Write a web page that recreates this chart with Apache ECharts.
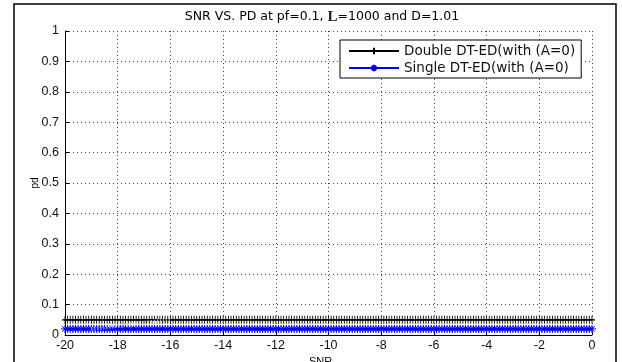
<!DOCTYPE html>
<html>
<head>
<meta charset="utf-8">
<script src="https://cdn.jsdelivr.net/npm/echarts@6/dist/echarts.min.js"></script>
<style>html,body{margin:0;padding:0;background:#fff}#c{width:622px;height:362px}</style>
</head>
<body>
<div id="c"></div>
<script>
var snr = [
-20,-19.9,-19.8,-19.7,-19.6,-19.5,-19.4,-19.3,-19.2,-19.1,
-19,-18.9,-18.8,-18.7,-18.6,-18.5,-18.4,-18.3,-18.2,-18.1,
-18,-17.9,-17.8,-17.7,-17.6,-17.5,-17.4,-17.3,-17.2,-17.1,
-17,-16.9,-16.8,-16.7,-16.6,-16.5,-16.4,-16.3,-16.2,-16.1,
-16,-15.9,-15.8,-15.7,-15.6,-15.5,-15.4,-15.3,-15.2,-15.1,
-15,-14.9,-14.8,-14.7,-14.6,-14.5,-14.4,-14.3,-14.2,-14.1,
-14,-13.9,-13.8,-13.7,-13.6,-13.5,-13.4,-13.3,-13.2,-13.1,
-13,-12.9,-12.8,-12.7,-12.6,-12.5,-12.4,-12.3,-12.2,-12.1,
-12,-11.9,-11.8,-11.7,-11.6,-11.5,-11.4,-11.3,-11.2,-11.1,
-11,-10.9,-10.8,-10.7,-10.6,-10.5,-10.4,-10.3,-10.2,-10.1,
-10,-9.9,-9.8,-9.7,-9.6,-9.5,-9.4,-9.3,-9.2,-9.1,
-9,-8.9,-8.8,-8.7,-8.6,-8.5,-8.4,-8.3,-8.2,-8.1,
-8,-7.9,-7.8,-7.7,-7.6,-7.5,-7.4,-7.3,-7.2,-7.1,
-7,-6.9,-6.8,-6.7,-6.6,-6.5,-6.4,-6.3,-6.2,-6.1,
-6,-5.9,-5.8,-5.7,-5.6,-5.5,-5.4,-5.3,-5.2,-5.1,
-5,-4.9,-4.8,-4.7,-4.6,-4.5,-4.4,-4.3,-4.2,-4.1,
-4,-3.9,-3.8,-3.7,-3.6,-3.5,-3.4,-3.3,-3.2,-3.1,
-3,-2.9,-2.8,-2.7,-2.6,-2.5,-2.4,-2.3,-2.2,-2.1,
-2,-1.9,-1.8,-1.7,-1.6,-1.5,-1.4,-1.3,-1.2,-1.1,
-1,-0.9,-0.8,-0.7,-0.6,-0.5,-0.4,-0.3,-0.2,-0.1,
0];
var pdDouble = [
0.05,0.05,0.05,0.05,0.05,0.05,0.05,0.05,0.05,0.05,
0.05,0.05,0.05,0.05,0.05,0.05,0.05,0.05,0.05,0.05,
0.05,0.05,0.05,0.05,0.05,0.05,0.05,0.05,0.05,0.05,
0.05,0.05,0.05,0.05,0.05,0.05,0.05,0.05,0.05,0.05,
0.05,0.05,0.05,0.05,0.05,0.05,0.05,0.05,0.05,0.05,
0.05,0.05,0.05,0.05,0.05,0.05,0.05,0.05,0.05,0.05,
0.05,0.05,0.05,0.05,0.05,0.05,0.05,0.05,0.05,0.05,
0.05,0.05,0.05,0.05,0.05,0.05,0.05,0.05,0.05,0.05,
0.05,0.05,0.05,0.05,0.05,0.05,0.05,0.05,0.05,0.05,
0.05,0.05,0.05,0.05,0.05,0.05,0.05,0.05,0.05,0.05,
0.05,0.05,0.05,0.05,0.05,0.05,0.05,0.05,0.05,0.05,
0.05,0.05,0.05,0.05,0.05,0.05,0.05,0.05,0.05,0.05,
0.05,0.05,0.05,0.05,0.05,0.05,0.05,0.05,0.05,0.05,
0.05,0.05,0.05,0.05,0.05,0.05,0.05,0.05,0.05,0.05,
0.05,0.05,0.05,0.05,0.05,0.05,0.05,0.05,0.05,0.05,
0.05,0.05,0.05,0.05,0.05,0.05,0.05,0.05,0.05,0.05,
0.05,0.05,0.05,0.05,0.05,0.05,0.05,0.05,0.05,0.05,
0.05,0.05,0.05,0.05,0.05,0.05,0.05,0.05,0.05,0.05,
0.05,0.05,0.05,0.05,0.05,0.05,0.05,0.05,0.05,0.05,
0.05,0.05,0.05,0.05,0.05,0.05,0.05,0.05,0.05,0.05,
0.05];
var pdSingle = [
0.02,0.02,0.02,0.02,0.02,0.02,0.02,0.02,0.02,0.02,
0.02,0.02,0.02,0.02,0.02,0.02,0.02,0.02,0.02,0.02,
0.02,0.02,0.02,0.02,0.02,0.02,0.02,0.02,0.02,0.02,
0.02,0.02,0.02,0.02,0.02,0.02,0.02,0.02,0.02,0.02,
0.02,0.02,0.02,0.02,0.02,0.02,0.02,0.02,0.02,0.02,
0.02,0.02,0.02,0.02,0.02,0.02,0.02,0.02,0.02,0.02,
0.02,0.02,0.02,0.02,0.02,0.02,0.02,0.02,0.02,0.02,
0.02,0.02,0.02,0.02,0.02,0.02,0.02,0.02,0.02,0.02,
0.02,0.02,0.02,0.02,0.02,0.02,0.02,0.02,0.02,0.02,
0.02,0.02,0.02,0.02,0.02,0.02,0.02,0.02,0.02,0.02,
0.02,0.02,0.02,0.02,0.02,0.02,0.02,0.02,0.02,0.02,
0.02,0.02,0.02,0.02,0.02,0.02,0.02,0.02,0.02,0.02,
0.02,0.02,0.02,0.02,0.02,0.02,0.02,0.02,0.02,0.02,
0.02,0.02,0.02,0.02,0.02,0.02,0.02,0.02,0.02,0.02,
0.02,0.02,0.02,0.02,0.02,0.02,0.02,0.02,0.02,0.02,
0.02,0.02,0.02,0.02,0.02,0.02,0.02,0.02,0.02,0.02,
0.02,0.02,0.02,0.02,0.02,0.02,0.02,0.02,0.02,0.02,
0.02,0.02,0.02,0.02,0.02,0.02,0.02,0.02,0.02,0.02,
0.02,0.02,0.02,0.02,0.02,0.02,0.02,0.02,0.02,0.02,
0.02,0.02,0.02,0.02,0.02,0.02,0.02,0.02,0.02,0.02,
0.02];
// faint transition trace visible near the left end
var ghostSnr = [-19, -18.5, -18, -17.5, -17, -16.5, -16];
var ghostPd = [0.02, 0.025, 0.03, 0.035, 0.04, 0.045, 0.05];

var names = ['Double DT-ED(with (A=0)', 'Single DT-ED(with (A=0)'];
var xTicks = [-20, -18, -16, -14, -12, -10, -8, -6, -4, -2, 0];
var yTicks = [0, 0.1, 0.2, 0.3, 0.4, 0.5, 0.6, 0.7, 0.8, 0.9, 1];

function zip(a, b) { var o = []; for (var i = 0; i < a.length; i++) o.push([a[i], b[i]]); return o; }

var FONT = '"Liberation Sans", Arial, sans-serif';
var WFONT = '"DejaVu Sans", sans-serif';
var plus = 'path://M5,0L5,10M0,5L10,5';
var star = 'path://M5,0L5,10M0,5L10,5M1.5,1.5L8.5,8.5M8.5,1.5L1.5,8.5';

var chart = echarts.init(document.getElementById('c'), null, {renderer: 'canvas'});
chart.setOption({
  animation: false,
  backgroundColor: '#fff',
  textStyle: {fontFamily: FONT},
  graphic: [
    {type: 'rect', shape: {x: 14, y: 4, width: 602, height: 370}, style: {fill: 'none', stroke: '#000', lineWidth: 1.5}, z: 100},
    {type: 'text', x: 322, y: 17, style: {
      text: 'SNR VS. PD at pf=0.1, {L|L}=1000 and D=1.01',
      align: 'center', verticalAlign: 'middle',
      font: '12.5px ' + WFONT, fill: '#000',
      rich: {L: {fontFamily: '"Liberation Serif", serif', fontSize: 15, fontWeight: 'bold', fill: '#223'}}
    }}
  ],
  grid: {left: 65, right: 30, top: 31, bottom: 27, containLabel: false, outerBoundsMode: 'none'},
  legend: {
    data: names,
    orient: 'vertical',
    left: 340, top: 40,
    itemWidth: 50, itemHeight: 8, itemGap: 3,
    padding: [4, 6, 3, 8],
    borderColor: '#000', borderWidth: 1, borderRadius: 0,
    backgroundColor: '#fff',
    textStyle: {fontSize: 13.5, color: '#111', fontFamily: WFONT}
  },
  xAxis: {
    type: 'value', min: -20, max: 0, interval: 2,
    name: 'SNR', nameLocation: 'middle', nameGap: 21, nameMoveOverlap: false,
    nameTextStyle: {fontSize: 11, color: '#000', padding: [0, 16, 0, 0]},
    axisLine: {show: true, onZero: false, lineStyle: {color: '#000', width: 1}},
    axisTick: {show: true, inside: true, length: 4, lineStyle: {color: '#000'}},
    axisLabel: {fontSize: 12.5, color: '#111', margin: 4,
      formatter: function (v) { return xTicks.indexOf(v) >= 0 ? String(v) : ''; }},
    splitLine: {show: true, lineStyle: {color: '#444', type: [1, 3], width: 1}}
  },
  yAxis: {
    type: 'value', min: 0, max: 1, interval: 0.1,
    name: 'pd', nameLocation: 'middle', nameGap: 25, nameMoveOverlap: false,
    nameTextStyle: {fontSize: 10, color: '#000'},
    axisLine: {show: true, onZero: false, lineStyle: {color: '#000', width: 1}},
    axisTick: {show: true, inside: true, length: 4, lineStyle: {color: '#000'}},
    axisLabel: {fontSize: 12.5, color: '#111', margin: 6,
      formatter: function (v) { var r = Math.round(v * 10) / 10; return yTicks.indexOf(r) >= 0 ? String(r) : ''; }},
    splitLine: {show: true, lineStyle: {color: '#444', type: [1, 3], width: 1}}
  },
  series: [
    {
      name: 'ghost', type: 'line', data: zip(ghostSnr, ghostPd),
      showSymbol: false, lineStyle: {color: '#c8c8d8', width: 4, type: [1, 2]}, z: 5, silent: true
    },
    {
      name: names[0], type: 'line', data: zip(snr, pdDouble),
      symbol: plus, symbolSize: [6, 8], showAllSymbol: true,
      color: '#000',
      itemStyle: {color: 'none', borderColor: '#000', borderWidth: 1},
      lineStyle: {color: '#000', width: 1}, z: 3
    },
    {
      name: names[1], type: 'line', data: zip(snr, pdSingle),
      symbol: star, symbolSize: 8, showAllSymbol: true,
      color: '#0000ff',
      itemStyle: {color: 'none', borderColor: '#0000ff', borderWidth: 1},
      lineStyle: {color: '#0000ff', width: 1.5}, z: 4
    }
  ]
});
</script>
</body>
</html>
